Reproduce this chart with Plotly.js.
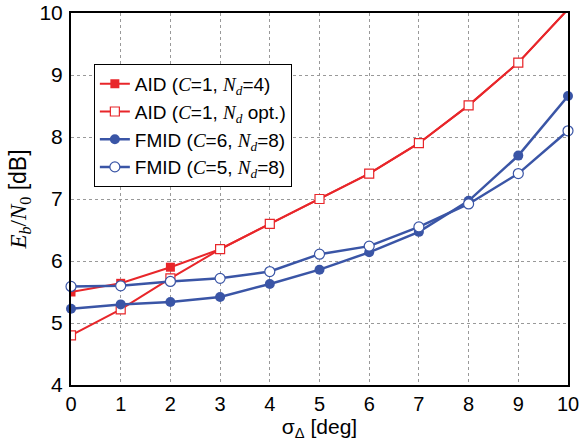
<!DOCTYPE html>
<html>
<head>
<meta charset="utf-8">
<script src="https://cdn.plot.ly/plotly-3.0.1.min.js"></script>
<style>html,body{margin:0;padding:0;background:#fff;}#plot{width:579px;height:447px;}</style>
</head>
<body>
<div id="plot"></div>
<script>
var sigma = [0,1,2,3,4,5,6,7,8,9,10];
var aidNd4 = [5.50,5.64,5.90,6.19,6.60,7.00,7.41,7.90,8.51,9.20,10.06];
var aidNdOpt = [4.80,5.22,5.72,6.19,6.60,7.00,7.41,7.90,8.51,9.20,10.06];
var fmidC6 = [5.23,5.30,5.34,5.42,5.63,5.86,6.14,6.47,6.97,7.70,8.66];
var fmidC5 = [5.59,5.60,5.67,5.72,5.83,6.11,6.24,6.55,6.92,7.41,8.10];
var xTicks = [0,1,2,3,4,5,6,7,8,9,10];
var yTicks = [4,5,6,7,8,9,10];

var red = '#e8262a', blue = '#3a55a6';
var S = '<span style="font-family:Liberation Serif, Times New Roman, serif">';
function it(s){ return S + '<i>' + s + '</i></span>'; }
var traces = [
  {x: sigma, y: aidNd4, mode:'lines+markers', name:'AID (' + it('C') + '=1, ' + it('N') + '<sub>' + it('d') + '</sub>=4)',
   line:{color:red,width:2}, marker:{symbol:'square',size:9,color:red}, cliponaxis:true},
  {x: sigma, y: aidNdOpt, mode:'lines+markers', name:'AID (' + it('C') + '=1, ' + it('N') + '<sub>' + it('d') + '</sub> opt.)',
   line:{color:red,width:2}, marker:{symbol:'square',size:9,color:'#fff',line:{color:red,width:1.2}}, cliponaxis:true},
  {x: sigma, y: fmidC6, mode:'lines+markers', name:'FMID (' + it('C') + '=6, ' + it('N') + '<sub>' + it('d') + '</sub>=8)',
   line:{color:blue,width:2.5}, marker:{symbol:'circle',size:10,color:blue}, cliponaxis:false},
  {x: sigma, y: fmidC5, mode:'lines+markers', name:'FMID (' + it('C') + '=5, ' + it('N') + '<sub>' + it('d') + '</sub>=8)',
   line:{color:blue,width:2.5}, marker:{symbol:'circle',size:10,color:'#fff',line:{color:blue,width:1.2}}, cliponaxis:false}
];

var layout = {
  width:579, height:447,
  margin:{l:71, r:11, t:13, b:62},
  paper_bgcolor:'#fff', plot_bgcolor:'#fff',
  font:{family:'Liberation Sans, Arial, sans-serif', size:18, color:'#000'},
  showlegend:true,
  legend:{x:0.046, y:0.863, xanchor:'left', yanchor:'top', bgcolor:'#fff',
          bordercolor:'#000', borderwidth:1, font:{size:19}, tracegroupgap:0, itemwidth:30},
  xaxis:{range:[0,10], tickvals:xTicks, ticks:'', showline:true, linecolor:'#000', linewidth:2,
         mirror:true, showgrid:true, gridcolor:'#999', griddash:'dot', gridwidth:1, zeroline:false,
         tickfont:{size:20}, ticklabelstandoff:0, ticklabeloverflow:'allow',
         title:{text:'σ<sub>Δ</sub> [deg]', font:{size:21}, standoff:0}},
  yaxis:{range:[4,10], tickvals:yTicks, ticks:'', showline:true, linecolor:'#000', linewidth:2,
         mirror:true, showgrid:true, gridcolor:'#999', griddash:'dot', gridwidth:1, zeroline:false,
         tickfont:{size:21}, ticklabelstandoff:2, ticklabeloverflow:'allow',
         title:{text:'<span style="font-family:Liberation Serif, Times New Roman, serif"><i>E</i><sub><i>b</i></sub>/<i>N</i><sub>0</sub></span> [dB]', font:{size:23}, standoff:6}}
};
Plotly.newPlot('plot', traces, layout, {displayModeBar:false, staticPlot:true});
</script>
</body>
</html>
